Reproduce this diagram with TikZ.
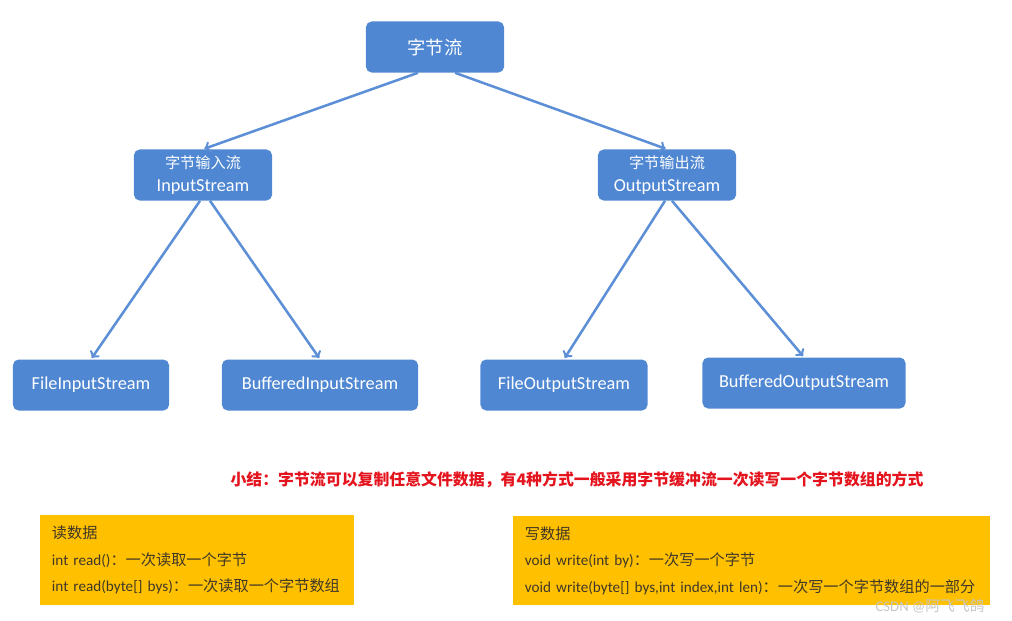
\documentclass[tikz,border=0pt]{standalone}
\usepackage{fontspec}
\setmainfont{Carlito}
\newfontfamily\cjk{Noto Sans CJK SC}
\newcommand{\zh}[1]{{\cjk #1}}
\usetikzlibrary{positioning}
\definecolor{boxblue}{RGB}{79,135,210}
\definecolor{arrowblue}{RGB}{92,143,214}
\definecolor{noteyellow}{RGB}{255,192,0}
\definecolor{notetext}{RGB}{64,56,40}
\definecolor{sumred}{RGB}{228,20,30}
\tikzset{
  streambox/.style={fill=boxblue, rounded corners=4pt, text=white, align=center,
    minimum height=1.275cm, inner sep=2pt, font=\fontsize{13}{16.3}\selectfont},
  notebox/.style={fill=noteyellow, text=notetext, align=left, inner xsep=0.3cm,
    inner ysep=0pt, font=\fontsize{10.8}{18.8}\selectfont},
  flow/.style={->, line width=1.8pt, draw=arrowblue, shorten >=1pt},
}

\begin{document}
\begin{tikzpicture}[x=0.025cm, y=-0.025cm]
\useasboundingbox (0,0) rectangle (1012,620);
%tree
\node[streambox, minimum width=3.45cm, font=\fontsize{13}{15}\selectfont] (byte) at (435,47) {\zh{字节流}};
\node[streambox, minimum width=3.45cm] (in) at (203,175) {\zh{\fontsize{10.8}{16.3}\selectfont 字节输入流}\\InputStream};
\node[streambox, minimum width=3.45cm] (out) at (667,175) {\zh{\fontsize{10.8}{16.3}\selectfont 字节输出流}\\OutputStream};
\node[streambox, minimum width=3.9cm] (fin) at (91,385) {FileInputStream};
\node[streambox, minimum width=4.9cm] (bin) at (320,385) {BufferedInputStream};
\node[streambox, minimum width=4.175cm] (fout) at (564,385) {FileOutputStream};
\node[streambox, minimum width=5.075cm] (bout) at (804,383) {BufferedOutputStream};

\draw[flow] ([xshift=-0.425cm]byte.south) -- (in.north);
\draw[flow] ([xshift=0.5cm]byte.south) -- (out.north);
\draw[flow] ([xshift=-0.075cm]in.south) -- (fin.north);
\draw[flow] ([xshift=0.175cm]in.south) -- (bin.north);
\draw[flow] ([xshift=-0.05cm]out.south) -- (fout.north);
\draw[flow] ([xshift=0.125cm]out.south) -- (bout.north);

%summary
\node[text=sumred, font=\cjk\bfseries\fontsize{11.3}{14}\selectfont] (sum) at (577,480)
  {小结：字节流可以复制任意文件数据，有4种方式一般采用字节缓冲流一次读写一个字节数组的方式};

%read and write notes
\node[notebox, minimum height=2.25cm, text width=7.25cm] (rd) at (197,560)
  {\zh{读数据}\\int read()\zh{：一次读取一个字节}\\int read(byte[] bys)\zh{：一次读取一个字节数组}};
\node[notebox, minimum height=2.225cm, text width=11.325cm] (wr) at (751.5,560.5)
  {\zh{写数据}\\void write(int by)\zh{：一次写一个字节}\\void write(byte[] bys,int index,int len)\zh{：一次写一个字节数组的一部分}};

\node[text=gray!45, font=\fontsize{10.5}{12}\selectfont] (mark) at (930,606) {CSDN @\zh{阿飞飞鸽}};
\end{tikzpicture}
\end{document}
